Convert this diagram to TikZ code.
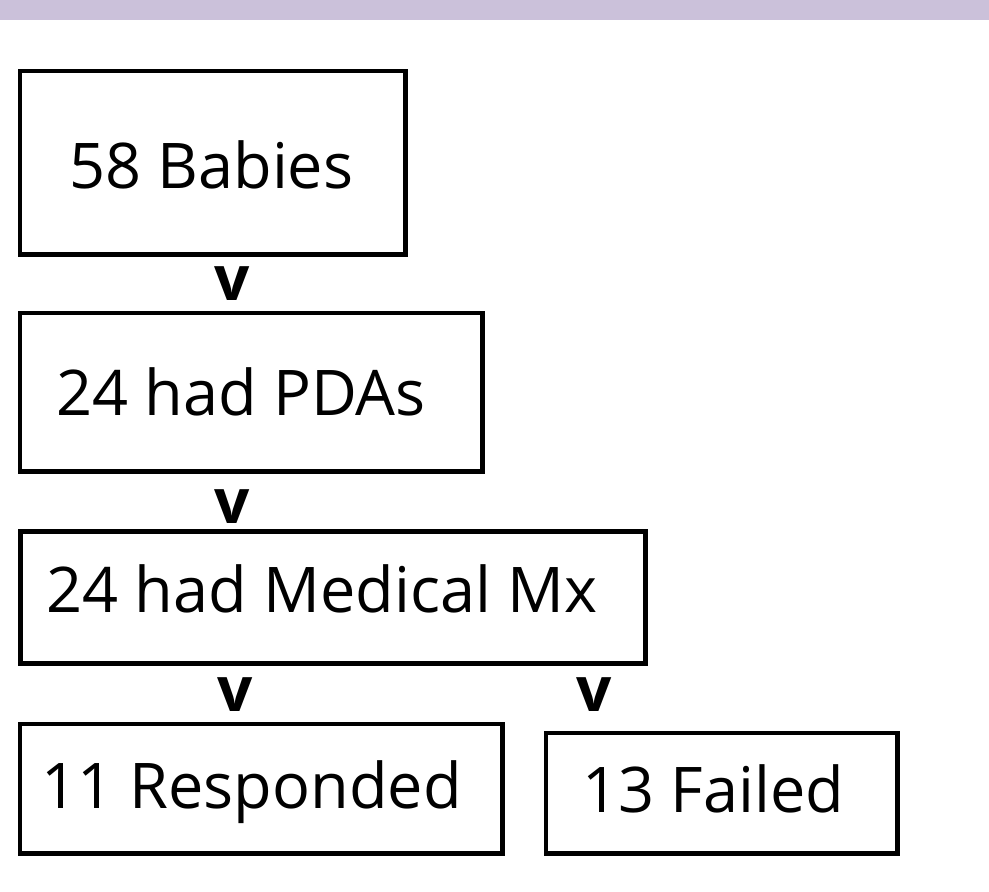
\documentclass[tikz,border=0pt]{standalone}
\usepackage{fontspec}
\setmainfont{Open Sans}
\definecolor{barcol}{HTML}{CBC1DA}
\begin{document}
\begin{tikzpicture}[x=1pt,y=-1pt,
  box/.style={draw=black,line width=4.6pt,inner sep=0pt,outer sep=0pt},
  lbl/.style={anchor=base west,inner sep=0pt,font=\fontsize{63}{70}\selectfont},
  vmark/.style={anchor=base,inner sep=0pt,font=\fontsize{62}{70}\selectfont\bfseries}]
\useasboundingbox (0,0) rectangle (989,892);
\fill[barcol] (0,0) rectangle (989,20);
% boxes
\node[box,minimum width=385.5pt,minimum height=183.5pt,anchor=north west] (b1) at (20,71) {};
\node[box,minimum width=462.5pt,minimum height=158.5pt,anchor=north west] (b2) at (20,313) {};
\node[box,minimum width=625pt,minimum height=132pt,anchor=north west] (b3) at (20.5,531.5) {};
\node[box,minimum width=482.5pt,minimum height=129.5pt,anchor=north west] (b4) at (20,724) {};
\node[box,minimum width=351.5pt,minimum height=120.5pt,anchor=north west] (b5) at (546,733) {};
% texts
\node[lbl] (t1) at (69,188) {58 Babies};
\node[lbl] (t2) at (56,415) {24 had PDAs};
\node[lbl] (t3) at (46,612) {24 had Medical Mx};
\node[lbl] (t4) at (41,808) {11 Responded};
\node[lbl] (t5) at (582,812) {13 Failed};
% v marks
\node[vmark] (v1) at (232,300) {v};
\node[vmark] (v2) at (232,523) {v};
\node[vmark] (v3) at (235,711) {v};
\node[vmark] (v4) at (594,711) {v};
\end{tikzpicture}
\end{document}
